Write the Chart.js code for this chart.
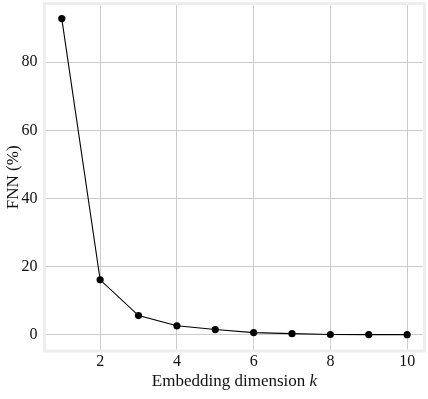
<!DOCTYPE html>
<html>
<head>
<meta charset="utf-8">
<script src="https://cdn.jsdelivr.net/npm/chart.js@4.4.1/dist/chart.umd.min.js"></script>
<style>
  html, body { margin: 0; padding: 0; background: #fff; }
  #wrap { width: 428px; height: 399px; }
</style>
</head>
<body>
<div id="wrap"><canvas id="chart"></canvas></div>
<script>
// embedding dimension k and false nearest neighbours (%)
const dims = [1, 2, 3, 4, 5, 6, 7, 8, 9, 10];
const fnn = [92.8, 16.1, 5.6, 2.6, 1.5, 0.6, 0.3, 0.05, 0.02, 0.0];
const xTicks = [2, 4, 6, 8, 10];
const yTicks = [0, 20, 40, 60, 80];

const serif = '"Liberation Serif", "DejaVu Serif", serif';

// light gray frame round the plot area + x title with italic k
const framePlugin = {
  id: 'frame',
  beforeDatasetsDraw(chart) {
    const { ctx, chartArea: a } = chart;
    ctx.save();
    ctx.strokeStyle = '#eeeeee';
    ctx.lineWidth = 3;
    ctx.strokeRect(a.left, a.top, a.right - a.left, a.bottom - a.top);
    ctx.restore();
  },
  afterDraw(chart) {
    const { ctx, chartArea: a } = chart;
    const main = 'Embedding dimension ';
    ctx.save();
    ctx.fillStyle = '#111';
    ctx.textBaseline = 'alphabetic';
    ctx.font = '17px ' + serif;
    const w1 = ctx.measureText(main).width;
    ctx.font = 'italic 17px ' + serif;
    const w2 = ctx.measureText('k').width;
    let x = (a.left + a.right) / 2 - (w1 + w2) / 2;
    const y = 386;
    ctx.font = '17px ' + serif;
    ctx.fillText(main, x, y);
    ctx.font = 'italic 17px ' + serif;
    ctx.fillText('k', x + w1, y);
    ctx.restore();
  }
};

new Chart(document.getElementById('chart'), {
  type: 'line',
  data: {
    datasets: [{
      data: dims.map((k, i) => ({ x: k, y: fnn[i] })),
      borderColor: '#000',
      borderWidth: 1.1,
      backgroundColor: '#000',
      pointRadius: 3.6,
      pointHoverRadius: 3.6,
      pointBorderWidth: 0,
      tension: 0
    }]
  },
  options: {
    responsive: true,
    maintainAspectRatio: false,
    animation: false,
    layout: { padding: { top: 2, right: 3, left: 0, bottom: 0 } },
    plugins: { legend: { display: false }, tooltip: { enabled: false } },
    scales: {
      x: {
        type: 'linear',
        min: 0.55,
        max: 10.45,
        afterBuildTicks: s => { s.ticks = xTicks.map(v => ({ value: v })); },
        afterFit: s => { s.height = 48; s.paddingLeft = 0; s.paddingRight = 0; },
        grid: { color: '#cccccc', lineWidth: 1, drawTicks: false },
        border: { display: false },
        ticks: { color: '#111', font: { family: serif, size: 16 }, padding: 1, maxRotation: 0 }
      },
      y: {
        min: -4.8,
        max: 97.2,
        afterBuildTicks: s => { s.ticks = yTicks.map(v => ({ value: v })); },
        afterFit: s => { s.width = 44.5; s.paddingTop = 0; s.paddingBottom = 0; },
        grid: { color: '#cccccc', lineWidth: 1, drawTicks: false },
        border: { display: false },
        ticks: { color: '#111', font: { family: serif, size: 16 }, padding: 7 },
        title: {
          display: true,
          text: 'FNN (%)',
          color: '#111',
          font: { family: serif, size: 17 },
          padding: { top: 3, bottom: 0 }
        }
      }
    }
  },
  plugins: [framePlugin]
});
</script>
</body>
</html>
